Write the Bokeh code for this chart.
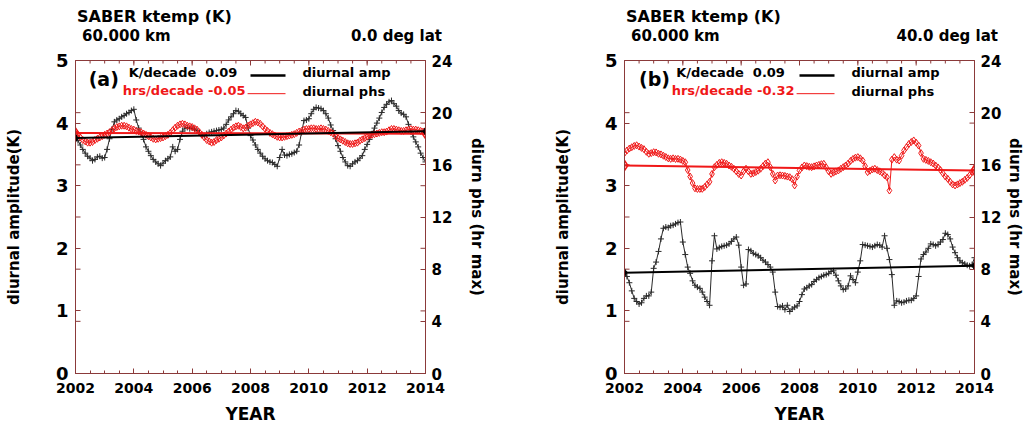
import numpy as np
from bokeh.plotting import figure
from bokeh.models import Range1d, LinearAxis, FixedTicker, Label, Div
from bokeh.layouts import row, column
from bokeh.embed import file_html
from bokeh.resources import INLINE

# ---------------- data ----------------
months = list(range(145))                      # monthly samples 2002.0 .. 2014.0
years = [2002 + m / 12 for m in months]

# (a) 0.0 deg lat : diurnal amplitude (K)
amp_a = [
    3.80, 3.72, 3.65, 3.58, 3.52, 3.47, 3.44, 3.40, 3.42, 3.46, 3.47, 3.44,
    3.45, 3.58, 3.75, 3.90, 4.02, 4.05, 4.07, 4.10, 4.12, 4.15, 4.17, 4.20,
    4.22, 4.05, 3.92, 3.83, 3.74, 3.62, 3.55, 3.48, 3.42, 3.38, 3.35, 3.32,
    3.36, 3.40, 3.43, 3.46, 3.62, 3.55, 3.58, 3.74, 3.87, 3.92, 3.93, 3.91,
    3.92, 3.90, 3.88, 3.84, 3.81, 3.80, 3.83, 3.85, 3.86, 3.87, 3.88, 3.89,
    3.90, 3.92, 3.98, 4.05, 4.10, 4.15, 4.20, 4.19, 4.15, 4.12, 4.09, 3.92,
    3.80, 3.73, 3.65, 3.58, 3.52, 3.47, 3.43, 3.40, 3.38, 3.37, 3.34, 3.31,
    3.45, 3.58, 3.49, 3.48, 3.50, 3.51, 3.53, 3.55, 3.65, 3.85, 4.04, 4.05,
    4.07, 4.15, 4.22, 4.25, 4.24, 4.23, 4.20, 4.15, 4.08, 3.97, 3.88, 3.75,
    3.64, 3.55, 3.45, 3.38, 3.32, 3.31, 3.35, 3.38, 3.40, 3.44, 3.48, 3.58,
    3.66, 3.74, 3.83, 3.92, 4.00, 4.08, 4.17, 4.25, 4.30, 4.34, 4.36, 4.31,
    4.27, 4.20, 4.16, 4.14, 4.10, 3.98, 3.86, 3.78, 3.70, 3.62, 3.52, 3.45,
    3.38,
]
# (a) diurnal phase (hr of max)
phs_a = [
    18.4, 18.3, 18.1, 17.9, 17.8, 17.7, 17.7, 17.75, 17.9, 18.0, 18.1, 18.2,
    18.3, 18.4, 18.5, 18.65, 18.8, 18.9, 18.95, 19.0, 19.0, 18.95, 18.85, 18.75,
    18.7, 18.6, 18.55, 18.5, 18.4, 18.3, 18.2, 18.1, 18.0, 17.95, 18.0, 18.05,
    18.1, 18.2, 18.3, 18.45, 18.65, 18.85, 19.0, 19.1, 19.15, 19.1, 19.0, 18.95,
    18.9, 18.8, 18.7, 18.5, 18.3, 18.1, 17.9, 17.8, 17.7, 17.75, 17.9, 18.0,
    18.1, 18.25, 18.4, 18.55, 18.7, 18.85, 18.95, 19.0, 18.9, 18.8, 18.85, 19.0,
    19.1, 19.2, 19.3, 19.25, 19.15, 18.95, 18.75, 18.6, 18.45, 18.35, 18.25, 18.15,
    18.1, 18.1, 18.15, 18.2, 18.25, 18.3, 18.35, 18.45, 18.55, 18.6, 18.7, 18.75,
    18.75, 18.8, 18.8, 18.75, 18.75, 18.8, 18.75, 18.7, 18.6, 18.5, 18.4, 18.2,
    18.05, 17.95, 17.85, 17.75, 17.65, 17.6, 17.6, 17.65, 17.7, 17.85, 17.95, 18.05,
    18.15, 18.25, 18.3, 18.35, 18.4, 18.45, 18.5, 18.5, 18.55, 18.65, 18.75, 18.75,
    18.7, 18.65, 18.6, 18.6, 18.65, 18.7, 18.75, 18.7, 18.7, 18.65, 18.6, 18.55,
    18.5,
]
# (b) 40.0 deg lat : diurnal amplitude (K)
amp_b = [
    1.62, 1.55, 1.45, 1.32, 1.20, 1.15, 1.11, 1.13, 1.20, 1.24, 1.24, 1.30,
    1.68, 1.78, 1.95, 2.15, 2.32, 2.34, 2.33, 2.36, 2.37, 2.39, 2.41, 2.42,
    2.10, 1.90, 1.70, 1.60, 1.48, 1.41, 1.38, 1.36, 1.30, 1.22, 1.15, 1.09,
    1.80, 2.20, 1.99, 2.01, 2.03, 2.04, 2.05, 2.07, 2.11, 2.15, 2.18, 2.05,
    1.70, 1.41, 1.43, 1.98, 1.96, 1.92, 1.90, 1.88, 1.85, 1.81, 1.78, 1.74,
    1.70, 1.62, 1.30, 1.07, 1.06, 1.08, 1.02, 1.09, 0.99, 1.03, 1.06, 1.08,
    1.15, 1.26, 1.35, 1.37, 1.40, 1.42, 1.47, 1.50, 1.53, 1.55, 1.57, 1.58,
    1.60, 1.63, 1.64, 1.57, 1.48, 1.40, 1.34, 1.35, 1.40, 1.56, 1.50, 1.45,
    1.62, 1.80, 2.06, 2.05, 2.04, 2.03, 2.02, 2.04, 2.06, 2.05, 2.02, 2.20,
    2.00, 1.82, 1.58, 1.09, 1.16, 1.15, 1.13, 1.14, 1.16, 1.17, 1.17, 1.20,
    1.24, 1.55, 1.83, 1.90, 1.94, 2.00, 2.07, 2.06, 2.04, 2.06, 2.10, 2.14,
    2.24, 2.22, 2.15, 2.02, 1.93, 1.85, 1.80, 1.77, 1.75, 1.73, 1.72, 1.74,
    1.85,
]
# (b) diurnal phase (hr of max)
phs_b = [
    16.9, 17.1, 17.25, 17.35, 17.45, 17.5, 17.4, 17.3, 17.2, 17.0, 16.85, 16.9,
    16.97, 16.95, 16.85, 16.8, 16.7, 16.6, 16.5, 16.46, 16.5, 16.45, 16.46, 16.4,
    16.3, 16.2, 15.6, 15.1, 14.6, 14.2, 14.15, 14.15, 14.16, 14.3, 14.5, 14.7,
    15.3, 15.82, 16.0, 16.15, 16.2, 16.15, 16.08, 15.95, 15.85, 15.7, 15.5, 15.3,
    15.18, 15.5, 15.7, 15.5, 15.31, 15.35, 15.45, 15.55, 15.7, 15.9, 16.1, 16.2,
    15.82, 15.3, 14.8, 15.18, 15.2, 15.18, 15.15, 15.1, 15.05, 14.9, 14.42, 15.1,
    15.57, 15.8, 15.95, 15.9, 15.85, 15.82, 15.88, 15.95, 16.0, 16.05, 16.08, 15.8,
    15.5, 15.31, 15.4, 15.5, 15.57, 15.7, 15.82, 15.95, 16.1, 16.3, 16.45, 16.55,
    16.59, 16.5, 16.33, 15.9, 15.44, 15.55, 15.65, 15.7, 15.6, 15.5, 15.4, 15.2,
    15.05, 14.03, 16.4, 16.59, 16.4, 16.33, 16.7, 17.1, 17.35, 17.6, 17.75, 17.87,
    17.7, 17.48, 16.9, 16.46, 16.38, 16.3, 16.2, 16.1, 15.95, 15.8, 15.6, 15.35,
    15.1, 14.93, 14.7, 14.5, 14.42, 14.5, 14.6, 14.7, 14.85, 15.0, 15.2, 15.45,
    15.75,
]

# linear trends (end points)
trend_years = [2002, 2014]
amp_trend_a = [3.76, 3.87]
phs_trend_a = [18.45, 18.39]
amp_trend_b = [1.61, 1.72]
phs_trend_b = [15.95, 15.57]

# tick values
x_major = [2002, 2004, 2006, 2008, 2010, 2012, 2014]
x_minor = [2002 + 0.5 * k for k in range(25)]
amp_ticks = [0, 1, 2, 3, 4, 5]
phs_ticks = [0, 4, 8, 12, 16, 20, 24]

# texts
title_main = "SABER ktemp (K)"
title_alt = "60.000 km"
lat_a = "0.0 deg lat"
lat_b = "40.0 deg lat"
trend_txt_a = ["K/decade\u00a0 0.09", "hrs/decade -0.05"]
trend_txt_b = ["K/decade\u00a0 0.09", "hrs/decade -0.32"]

# ---------------- style ----------------
FRAME = "#8b3a3a"
FONT = "DejaVu Sans"
RED = "#f01818"
BLK = "#2a2a2a"
HEAD_H = 50


def style_axis(ax, size, standoff, label_standoff, label_size="15px"):
    ax.axis_line_color = FRAME
    ax.major_tick_line_color = FRAME
    ax.minor_tick_line_color = FRAME
    ax.major_tick_in = 5
    ax.major_tick_out = 0
    ax.minor_tick_in = 3
    ax.minor_tick_out = 0
    ax.major_label_text_font = FONT
    ax.major_label_text_font_style = "bold"
    ax.major_label_text_font_size = size
    ax.major_label_text_color = "black"
    ax.major_label_standoff = standoff
    ax.axis_label_text_font = FONT
    ax.axis_label_text_font_style = "bold"
    ax.axis_label_text_font_size = label_size
    ax.axis_label_text_color = "black"
    ax.axis_label_standoff = label_standoff


def make_panel(bl, br, amp, phs, amp_tr, phs_tr, tag, ttxt, tag_x, kd_x,
               right_lab_standoff):
    p = figure(frame_width=350, frame_height=313, x_range=Range1d(2002, 2014),
               y_range=Range1d(0, 5), output_backend="svg",
               toolbar_location=None, min_border_left=bl,
               min_border_right=br, min_border_top=10, min_border_bottom=54)
    p.extra_y_ranges = {"phs": Range1d(0, 24)}
    p.xgrid.visible = False
    p.ygrid.visible = False
    p.outline_line_color = FRAME
    p.outline_line_width = 1

    xa = p.xaxis[0]
    xa.ticker = FixedTicker(ticks=x_major, minor_ticks=x_minor)
    xa.axis_label = "YEAR"
    style_axis(xa, "14px", 9, 8, "17px")

    ya = p.yaxis[0]
    ya.ticker = FixedTicker(ticks=amp_ticks)
    ya.axis_label = "diurnal amplitude(K)"
    style_axis(ya, "18px", 7, 30, "15px")
    ya.minor_tick_line_color = None

    ra = LinearAxis(y_range_name="phs")
    ra.ticker = FixedTicker(ticks=phs_ticks)
    ra.axis_label = "diurn phs (hr max)"
    style_axis(ra, "15px", 6, right_lab_standoff, "15px")
    ra.minor_tick_line_color = None
    p.add_layout(ra, "right")

    # mirrored ticks (top, right for amplitude, left for phase)
    p.ray(x=x_major, y=[5] * len(x_major), angle=-np.pi / 2, length=5,
          length_units="screen", line_color=FRAME)
    p.ray(x=x_minor, y=[5] * len(x_minor), angle=-np.pi / 2, length=3,
          length_units="screen", line_color=FRAME)
    p.ray(x=[2014] * len(amp_ticks), y=amp_ticks, angle=np.pi, length=5,
          length_units="screen", line_color=FRAME)
    p.ray(x=[2002] * len(phs_ticks), y=phs_ticks, y_range_name="phs",
          angle=0, length=5, length_units="screen", line_color=FRAME)

    # data
    p.line(years, amp, line_color=BLK, line_width=1)
    p.scatter(years, amp, marker="cross", size=6, line_color=BLK,
              line_width=1)
    p.line(years, phs, y_range_name="phs", line_color=RED, line_width=1)
    p.scatter(years, phs, y_range_name="phs", marker="diamond", size=7,
              fill_color=None, line_color=RED, line_width=1)
    p.line(trend_years, phs_tr, y_range_name="phs", line_color=RED,
           line_width=2)
    p.scatter(trend_years, phs_tr, y_range_name="phs", marker="diamond",
              size=10, fill_color=None, line_color=RED, line_width=1.5)
    p.line(trend_years, amp_tr, line_color="black", line_width=2)
    p.scatter(trend_years, amp_tr, marker="diamond", size=8,
              fill_color="black", line_color="black")

    # legend block
    def lab(x, y, text, size, color="black", align="left"):
        p.add_layout(Label(x=x, y=y, text=text, text_font=FONT,
                           text_font_style="bold", text_font_size=size,
                           text_color=color, text_align=align,
                           text_baseline="middle"))

    lab(tag_x, 4.70, tag, "19px")
    lab(kd_x, 4.81, ttxt[0], "13px", align="right")
    lab(2007.83, 4.52, ttxt[1], "13px", color=RED, align="right")
    lab(2009.78, 4.81, "diurnal amp", "13px")
    lab(2009.78, 4.50, "diurnal phs", "13px")
    p.segment(x0=[2008.0], y0=[4.76], x1=[2009.2], y1=[4.76],
              line_color="black", line_width=2.5)
    p.segment(x0=[2007.9], y0=[4.47], x1=[2009.2], y1=[4.47],
              line_color=RED, line_width=1)
    return p


p1 = make_panel(75, 87, amp_a, phs_a, amp_trend_a, phs_trend_a,
                "(a)", trend_txt_a, 2002.45, 2007.55, 13)
p2 = make_panel(112, 47, amp_b, phs_b, amp_trend_b, phs_trend_b,
                "(b)", trend_txt_b, 2002.5, 2007.5, 2)

# header texts above the two panels
BASE = ("position:absolute;white-space:nowrap;font-family:'DejaVu Sans';"
        "font-weight:bold;color:black;")


def span(text, size, top, left=None, right=None):
    pos = f"left:{left}px;" if left is not None else f"right:{right}px;"
    return (f'<span style="{BASE}font-size:{size}px;line-height:{size}px;'
            f'top:{top}px;{pos}">{text}</span>')


header_html = (
    f'<div style="position:relative;width:1024px;height:{HEAD_H}px;">'
    + span(title_main, 16, 9, left=77)
    + span(title_alt, 15, 29, left=82)
    + span(lat_a, 15, 29, right=582)
    + span(title_main, 16, 9, left=626)
    + span(title_alt, 15, 29, left=631)
    + span(lat_b, 15, 29, right=26)
    + '</div>'
)
header = Div(text=header_html, width=1024, height=HEAD_H, margin=0)

layout = column(header, row(p1, p2))
open("out.html", "w").write(file_html(layout, INLINE))
